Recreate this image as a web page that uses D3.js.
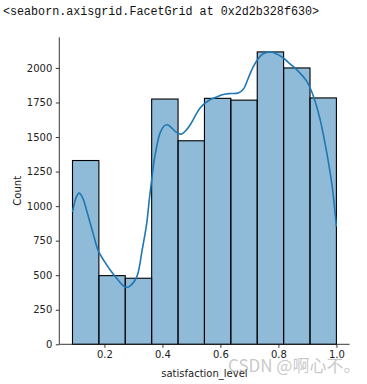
<!DOCTYPE html>
<html>
<head>
<meta charset="utf-8">
<script src="https://cdn.jsdelivr.net/npm/d3@7"></script>
<style>
  html, body { margin: 0; padding: 0; background: #fff; }
  svg { display: block; }
</style>
</head>
<body>
<script>
// ---- data ----
const binEdgesStart = 0.09;
const binEdgesEnd = 1.0;
const binCounts = [1330, 497, 478, 1775, 1473, 1780, 1767, 2116, 2000, 1783];
const kdeX = [0.09, 0.102, 0.113, 0.125, 0.14, 0.16, 0.179, 0.2, 0.22, 0.245, 0.262, 0.275, 0.29, 0.312, 0.33, 0.346, 0.355, 0.363, 0.375, 0.392, 0.405, 0.417, 0.43, 0.444, 0.457, 0.467, 0.48, 0.496, 0.515, 0.53, 0.547, 0.564, 0.588, 0.61, 0.635, 0.662, 0.679, 0.695, 0.714, 0.743, 0.76, 0.775, 0.795, 0.817, 0.84, 0.863, 0.898, 0.921, 0.944, 0.967, 0.985, 1.0];
const kdeY = [957, 1060, 1094, 1060, 960, 810, 676, 600, 538, 470, 430, 413, 425, 490, 680, 877, 1050, 1190, 1372, 1530, 1578, 1589, 1570, 1541, 1524, 1522, 1545, 1589, 1660, 1710, 1745, 1770, 1790, 1808, 1815, 1819, 1845, 1920, 2012, 2096, 2112, 2116, 2100, 2072, 2030, 1988, 1903, 1794, 1625, 1384, 1150, 852];
const yTicks = [0, 250, 500, 750, 1000, 1250, 1500, 1750, 2000];
const xTicks = [0.2, 0.4, 0.6, 0.8, 1.0];
const titleText = "<seaborn.axisgrid.FacetGrid at 0x2d2b328f630>";
const xLabel = "satisfaction_level";
const yLabel = "Count";
const watermark = "CSDN @啊心不。";

(function () {
// ---- layout ----
const W = 367, H = 384;
const mLeft = 59.3, mRight = 349.6, mTop = 37.3, mBottom = 344.3;
const nb = binCounts.length;
const bw = (binEdgesEnd - binEdgesStart) / nb;
const bins = binCounts.map((c, i) => ({x0: binEdgesStart + i * bw, x1: binEdgesStart + (i + 1) * bw, c}));
const span = binEdgesEnd - binEdgesStart;

const svg = d3.select("body").append("svg").attr("width", W).attr("height", H);

const x = d3.scaleLinear()
  .domain([binEdgesStart - span * 0.05, binEdgesEnd + span * 0.05])
  .range([mLeft, mRight]);
const yMax = d3.max(binCounts) * 1.05;
const y = d3.scaleLinear().domain([0, yMax]).range([mBottom, mTop]);

// title text
svg.append("text")
  .attr("x", 3).attr("y", 14.5)
  .attr("font-family", "'Liberation Mono', 'DejaVu Sans Mono', monospace")
  .attr("font-size", "12px")
  .attr("textLength", 316).attr("lengthAdjust", "spacingAndGlyphs")
  .attr("fill", "#111")
  .text(titleText);

// bars
svg.append("g").selectAll("rect").data(bins).join("rect")
  .attr("x", d => x(d.x0))
  .attr("y", d => y(d.c))
  .attr("width", d => x(d.x1) - x(d.x0))
  .attr("height", d => y(0) - y(d.c))
  .attr("fill", "#1f77b4").attr("fill-opacity", 0.5)
  .attr("stroke", "#000").attr("stroke-width", 1.1);

// kde line
const pts = kdeX.map((v, i) => [v, kdeY[i]]);
svg.append("path")
  .datum(pts)
  .attr("fill", "none")
  .attr("stroke", "#1f77b4")
  .attr("stroke-width", 1.6)
  .attr("d", d3.line().x(d => x(d[0])).y(d => y(d[1])).curve(d3.curveCatmullRom.alpha(0.5)));

// axes
const font = "'DejaVu Sans', sans-serif";
const gx = svg.append("g").attr("transform", `translate(0,${mBottom})`)
  .call(d3.axisBottom(x).tickValues(xTicks).tickFormat(d3.format(".1f")).tickSize(3.5).tickPadding(3.5));
const gy = svg.append("g").attr("transform", `translate(${mLeft},0)`)
  .call(d3.axisLeft(y).tickValues(yTicks).tickFormat(d3.format("d")).tickSize(3.5).tickPadding(3.5));
[gx, gy].forEach(g => {
  g.selectAll("path.domain").attr("stroke", "#222").attr("stroke-width", 0.9);
  g.selectAll(".tick line").attr("stroke", "#222").attr("stroke-width", 0.9);
  g.selectAll(".tick text").attr("font-family", font).attr("font-size", "10px").attr("fill", "#222");
});
gx.select("path.domain").attr("d", `M${mLeft},0H${mRight}`);
gy.select("path.domain").attr("d", `M0,${mBottom}V${mTop}`);

// axis labels
svg.append("text")
  .attr("x", (mLeft + mRight) / 2).attr("y", 377)
  .attr("text-anchor", "middle")
  .attr("font-family", font).attr("font-size", "10px").attr("fill", "#222")
  .text(xLabel);
svg.append("text")
  .attr("transform", `translate(21,${(mTop + mBottom) / 2}) rotate(-90)`)
  .attr("text-anchor", "middle")
  .attr("font-family", font).attr("font-size", "10px").attr("fill", "#222")
  .text(yLabel);

// watermark
svg.append("text")
  .attr("x", 228).attr("y", 372)
  .attr("font-family", "'Noto Sans CJK SC', 'Noto Sans', sans-serif")
  .attr("font-size", "17px")
  .attr("fill", "#999").attr("fill-opacity", 0.55)
  .text(watermark);
})();
</script>
</body>
</html>
